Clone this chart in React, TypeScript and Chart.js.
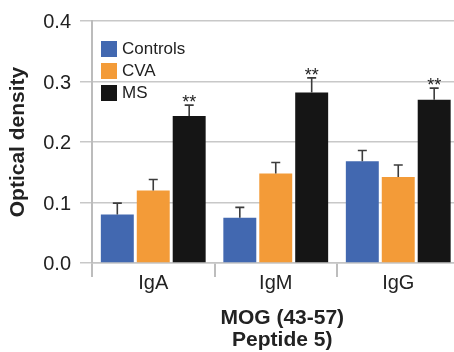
import React, { useEffect, useRef } from 'react';
import { Chart, registerables } from 'chart.js';

Chart.register(...registerables);

const categories = ['IgA', 'IgM', 'IgG'];
const seriesLabels = ['Controls', 'CVA', 'MS'];
const seriesColors = ['#4268b0', '#f39b38', '#151515'];
const controls = [0.080, 0.075, 0.168];
const controlsErr = [0.019, 0.017, 0.018];
const cva = [0.120, 0.148, 0.142];
const cvaErr = [0.018, 0.018, 0.020];
const ms = [0.243, 0.282, 0.270];
const msErr = [0.018, 0.024, 0.019];
const msSignificance = ['**', '**', '**'];
const yTicks = [0, 0.1, 0.2, 0.3, 0.4];
const yTitle = 'Optical density';
const xTitle = ['MOG (43-57)', 'Peptide 5)'];

const FONT = "'Liberation Sans', Arial, Helvetica, sans-serif";

const errorBarPlugin = {
  id: 'errorBars',
  afterDatasetsDraw(chart: any) {
    const ctx = chart.ctx;
    const yScale = chart.scales.y;
    chart.data.datasets.forEach((ds: any, i: number) => {
      const meta = chart.getDatasetMeta(i);
      meta.data.forEach((bar: any, j: number) => {
        const v = ds.data[j];
        const e = ds.errors ? ds.errors[j] : 0;
        const yTop = yScale.getPixelForValue(v + e);
        ctx.save();
        ctx.strokeStyle = '#3c3c3c';
        ctx.lineWidth = 1.6;
        ctx.beginPath();
        ctx.moveTo(bar.x, bar.y);
        ctx.lineTo(bar.x, yTop);
        ctx.moveTo(bar.x - 4.5, yTop);
        ctx.lineTo(bar.x + 4.5, yTop);
        ctx.stroke();
        if (ds.signif && ds.signif[j]) {
          ctx.fillStyle = '#222';
          ctx.font = `18px ${FONT}`;
          ctx.textAlign = 'center';
          ctx.textBaseline = 'alphabetic';
          ctx.fillText(ds.signif[j], bar.x, yTop + 3);
        }
        ctx.restore();
      });
    });
  },
};

const legendPlugin = {
  id: 'insideLegend',
  afterDraw(chart: any) {
    const ctx = chart.ctx;
    const { left, top } = chart.chartArea;
    ctx.save();
    chart.data.datasets.forEach((ds: any, i: number) => {
      const bx = left + 9;
      const by = top + 20 + i * 22;
      ctx.fillStyle = ds.backgroundColor;
      ctx.fillRect(bx, by, 16, 16);
      ctx.fillStyle = '#222';
      ctx.font = `17px ${FONT}`;
      ctx.textAlign = 'left';
      ctx.textBaseline = 'middle';
      ctx.fillText(ds.label, bx + 21, by + 8);
    });
    ctx.restore();
  },
};

const xTitlePlugin = {
  id: 'xTitle',
  afterDraw(chart: any) {
    const ctx = chart.ctx;
    const { left, right, bottom } = chart.chartArea;
    const cx = (left + right) / 2 + 6.5;
    ctx.save();
    ctx.fillStyle = '#222';
    ctx.font = `bold 21px ${FONT}`;
    ctx.textAlign = 'center';
    ctx.textBaseline = 'middle';
    xTitle.forEach((line, i) => {
      ctx.fillText(line, cx, bottom + 55.5 + i * 21.5);
    });
    ctx.restore();
  },
};

export default function App() {
  const ref = useRef<HTMLCanvasElement | null>(null);

  useEffect(() => {
    if (!ref.current) return;
    const chart = new Chart(ref.current, {
      type: 'bar',
      data: {
        labels: categories,
        datasets: [
          { label: seriesLabels[0], data: controls, errors: controlsErr, backgroundColor: seriesColors[0] } as any,
          { label: seriesLabels[1], data: cva, errors: cvaErr, backgroundColor: seriesColors[1] } as any,
          { label: seriesLabels[2], data: ms, errors: msErr, signif: msSignificance, backgroundColor: seriesColors[2] } as any,
        ],
      },
      options: {
        responsive: false,
        animation: false,
        devicePixelRatio: 1,
        layout: { padding: { top: 17, left: 0, right: 0.5, bottom: 0 } },
        datasets: { bar: { categoryPercentage: 0.88, barPercentage: 0.917, borderWidth: 0 } },
        plugins: {
          legend: { display: false },
          tooltip: { enabled: false },
          title: { display: false },
        },
        scales: {
          x: {
            grid: {
              offset: true,
              drawOnChartArea: false,
              drawTicks: true,
              tickLength: 14,
              color: '#bdbdbd',
              lineWidth: 2,
            },
            border: { display: true, color: '#c4c4c4', width: 1.5 },
            ticks: {
              color: '#222',
              font: { family: FONT, size: 20, lineHeight: 1.2 },
              padding: -6,
            },
            afterFit(scale: any) {
              scale.height = 89;
            },
          },
          y: {
            min: 0,
            max: 0.4,
            afterBuildTicks(scale: any) {
              scale.ticks = yTicks.map((v) => ({ value: v }));
            },
            grid: {
              color: '#c8c8c8',
              lineWidth: 1.5,
              drawTicks: true,
              tickLength: 12,
            },
            border: { display: true, color: '#bcbcbc', width: 2 },
            ticks: {
              color: '#222',
              font: { family: FONT, size: 20 },
              padding: 9,
              labelOffset: 1.5,
              callback: (v: any) => Number(v).toFixed(1),
            },
            title: {
              display: true,
              text: yTitle,
              color: '#222',
              font: { family: FONT, size: 21, weight: 'bold', lineHeight: 1.2 },
              padding: { top: 6, bottom: 0 },
            },
            afterFit(scale: any) {
              scale.width = 92;
            },
          },
        },
      },
      plugins: [errorBarPlugin, legendPlugin, xTitlePlugin],
    });
    return () => chart.destroy();
  }, []);

  return (
    <div style={{ position: 'fixed', left: 0, top: 0, width: 454, height: 352, overflow: 'hidden', background: '#fff' }}>
      <canvas ref={ref} width={460} height={352} style={{ display: 'block' }} />
    </div>
  );
}
